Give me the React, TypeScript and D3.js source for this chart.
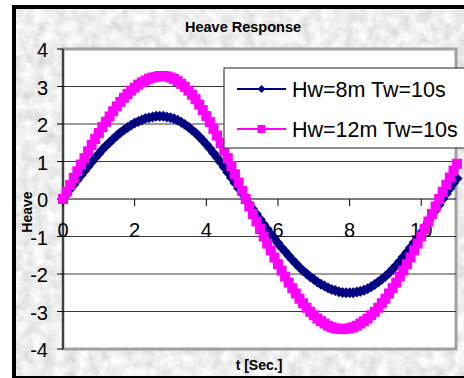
import React from 'react';
import * as d3 from 'd3';

// time axis, step 0.1 s
const tValues = d3.range(0, 111).map(i => i / 10);

// Hw=8m Tw=10s
const heave8 = [
  0, 0.13, 0.26, 0.38, 0.51, 0.63, 0.75, 0.87, 0.99, 1.10,
  1.21, 1.32, 1.42, 1.51, 1.60, 1.69, 1.77, 1.84, 1.91, 1.97,
  2.03, 2.07, 2.11, 2.15, 2.17, 2.19, 2.21, 2.21, 2.21, 2.19,
  2.17, 2.14, 2.10, 2.05, 1.99, 1.92, 1.84, 1.76, 1.67, 1.57,
  1.46, 1.35, 1.23, 1.11, 0.98, 0.85, 0.71, 0.57, 0.43, 0.29,
  0.15, 0, -0.14, -0.27, -0.40, -0.54, -0.67, -0.80, -0.93, -1.05,
  -1.17, -1.29, -1.40, -1.51, -1.62, -1.72, -1.82, -1.91, -1.99, -2.07,
  -2.14, -2.21, -2.27, -2.32, -2.37, -2.41, -2.44, -2.47, -2.49, -2.50,
  -2.50, -2.50, -2.48, -2.46, -2.43, -2.39, -2.34, -2.28, -2.21, -2.14,
  -2.06, -1.97, -1.87, -1.77, -1.66, -1.54, -1.42, -1.29, -1.16, -1.03,
  -0.89, -0.74, -0.60, -0.45, -0.30, -0.15, 0, 0.14, 0.28, 0.42,
  0.55,
];

// Hw=12m Tw=10s
const heave12 = [
  0, 0.19, 0.37, 0.56, 0.74, 0.92, 1.09, 1.27, 1.44, 1.60,
  1.76, 1.92, 2.06, 2.20, 2.34, 2.47, 2.59, 2.70, 2.80, 2.89,
  2.97, 3.05, 3.11, 3.16, 3.21, 3.24, 3.26, 3.28, 3.28, 3.27,
  3.24, 3.20, 3.14, 3.07, 2.99, 2.89, 2.78, 2.66, 2.52, 2.37,
  2.21, 2.05, 1.87, 1.69, 1.49, 1.29, 1.09, 0.88, 0.66, 0.44,
  0.22, 0, -0.20, -0.40, -0.60, -0.80, -1.00, -1.19, -1.37, -1.56,
  -1.74, -1.91, -2.07, -2.23, -2.38, -2.52, -2.66, -2.78, -2.90, -3.01,
  -3.10, -3.19, -3.26, -3.32, -3.38, -3.42, -3.45, -3.46, -3.47, -3.46,
  -3.45, -3.42, -3.38, -3.32, -3.26, -3.19, -3.10, -3.01, -2.90, -2.78,
  -2.66, -2.52, -2.38, -2.23, -2.07, -1.91, -1.74, -1.56, -1.37, -1.19,
  -1.00, -0.80, -0.60, -0.40, -0.20, 0, 0.19, 0.38, 0.57, 0.76,
  0.94,
];

const seriesNames = ['Hw=8m Tw=10s', 'Hw=12m Tw=10s'];
const seriesColors = ['#000080', '#FF00FF'];
const xTicks = [0, 2, 4, 6, 8, 10];
const yTicks = [-4, -3, -2, -1, 0, 1, 2, 3, 4];

const W = 464;
const H = 378;
const plot = { left: 63, right: 456, top: 49, bottom: 349 };

const x = d3.scaleLinear().domain([0, 10.97]).range([plot.left, plot.right]);
const y = d3.scaleLinear().domain([-4, 4]).range([plot.bottom, plot.top]);

const diamond = 'M0,-5.5L5.5,0L0,5.5L-5.5,0Z';
const square = d3.symbol().type(d3.symbolSquare).size(100)();

export default function App() {
  const lineGen = d3.line<number>().x((_, i) => x(tValues[i])).y(d => y(d));
  const series = [heave8, heave12];
  const markers = [diamond, square];

  return (
    <svg width={W} height={H} style={{ position: 'absolute', left: 0, top: 0, background: '#fff' }}
      fontFamily="'Liberation Sans', Arial, sans-serif">
      <defs>
        <filter id="marble" x="0" y="0" width="100%" height="100%">
          <feTurbulence type="fractalNoise" baseFrequency="0.09" numOctaves={4} seed={3} />
          <feColorMatrix type="matrix"
            values="0.45 0 0 0 0.63  0.45 0 0 0 0.63  0.45 0 0 0 0.63  0 0 0 0 1" />
        </filter>
      </defs>

      {/* chart frame */}
      <rect x={16} y={9} width={W - 16} height={H - 11} filter="url(#marble)" />
      <rect x={12} y={5} width={4} height={H - 5} fill="#000" />
      <rect x={12} y={5} width={W - 12} height={4} fill="#000" />
      <rect x={12} y={H - 2} width={W - 12} height={2} fill="#000" />

      {/* plot area */}
      <rect x={plot.left} y={plot.top} width={plot.right - plot.left} height={plot.bottom - plot.top}
        fill="#fff" stroke="#a0a0a0" strokeWidth={3} />

      {yTicks.filter(v => v !== 0 && v !== 4 && v !== -4).map(v => (
        <line key={v} x1={plot.left} x2={plot.right} y1={y(v)} y2={y(v)} stroke="#3a3a3a" strokeWidth={1} />
      ))}

      {/* axes */}
      <line x1={plot.left} x2={plot.left} y1={plot.top} y2={plot.bottom} stroke="#000" strokeWidth={1.2} />
      <line x1={plot.left} x2={plot.right} y1={y(0)} y2={y(0)} stroke="#000" strokeWidth={1.2} />
      {yTicks.map(v => (
        <g key={v}>
          <line x1={plot.left - 6} x2={plot.left} y1={y(v)} y2={y(v)} stroke="#000" />
          <text x={48} y={y(v) + 1} textAnchor="end" dominantBaseline="central" fontSize={20}>{v}</text>
        </g>
      ))}
      {xTicks.map(v => (
        <g key={v}>
          <line x1={x(v)} x2={x(v)} y1={y(0)} y2={y(0) + 7} stroke="#000" />
          <text x={x(v)} y={237} textAnchor="middle" fontSize={20}>{v}</text>
        </g>
      ))}

      {/* series */}
      {series.map((s, k) => (
        <g key={k}>
          <path d={lineGen(s) || ''} fill="none" stroke={seriesColors[k]} strokeWidth={2} />
          {s.map((v, i) => (
            <path key={i} d={markers[k]} transform={`translate(${x(tValues[i])},${y(v)})`}
              fill={seriesColors[k]} />
          ))}
        </g>
      ))}

      {/* legend */}
      <rect x={224} y={68} width={W - 224 + 4} height={80} fill="#fff" stroke="#444" strokeWidth={1.2} />
      {seriesNames.map((name, k) => {
        const ly = 89 + k * 40;
        return (
          <g key={name}>
            <line x1={237} x2={286} y1={ly} y2={ly} stroke={seriesColors[k]} strokeWidth={2} />
            <path d={k === 0 ? 'M0,-4L4,0L0,4L-4,0Z' : d3.symbol().type(d3.symbolSquare).size(64)() || ''}
              transform={`translate(261.5,${ly})`} fill={seriesColors[k]} />
            <text x={292} y={ly + 8} fontSize={21.5}>{name}</text>
          </g>
        );
      })}

      {/* titles */}
      <text x={243} y={32} textAnchor="middle" fontSize={14.5} fontWeight="bold">Heave Response</text>
      <text x={259} y={370} textAnchor="middle" fontSize={14} fontWeight="bold">t [Sec.]</text>
      <text transform="translate(32,212) rotate(-90)" textAnchor="middle" fontSize={14} fontWeight="bold">Heave</text>
    </svg>
  );
}
